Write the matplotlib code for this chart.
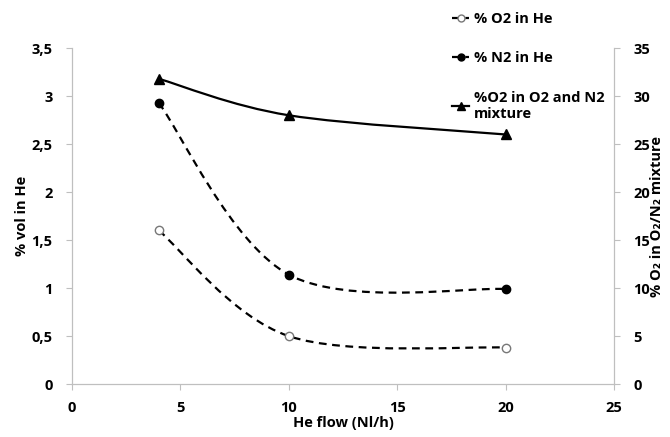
import matplotlib.pyplot as plt
from matplotlib.path import Path
from matplotlib.patches import PathPatch
from matplotlib.lines import Line2D
from matplotlib.ticker import FuncFormatter

plt.rcParams['font.family'] = ['Open Sans', 'DejaVu Sans']
plt.rcParams['font.weight'] = 'bold'

he_flow = [4, 10, 20]
o2_in_he = [1.6, 0.5, 0.38]
n2_in_he = [2.93, 1.14, 0.99]
o2_in_mix = [31.8, 28.0, 26.0]


def smooth_path(xs, ys):
    # Excel-like smoothed line: cubic Bezier segments through each point
    pts = list(zip(xs, ys))
    ext = [pts[0]] + pts + [pts[-1]]
    verts = [pts[0]]
    codes = [Path.MOVETO]
    for i in range(1, len(ext) - 2):
        p0, p1, p2, p3 = ext[i - 1], ext[i], ext[i + 1], ext[i + 2]
        c1 = (p1[0] + (p2[0] - p0[0]) / 6, p1[1] + (p2[1] - p0[1]) / 6)
        c2 = (p2[0] - (p3[0] - p1[0]) / 6, p2[1] - (p3[1] - p1[1]) / 6)
        verts += [c1, c2, p2]
        codes += [Path.CURVE4] * 3
    return Path(verts, codes)


def comma(v, pos):
    return ('%g' % v).replace('.', ',')


fig = plt.figure(figsize=(6.7, 4.37), dpi=100)
ax = fig.add_axes([0.1075, 0.121, 0.809, 0.769])
ax2 = ax.twinx()

grey = '#bfbfbf'
dash = (0, (3.5, 2.5))

ax.add_patch(PathPatch(smooth_path(he_flow, o2_in_he), fill=False,
                       edgecolor='black', lw=1.6, linestyle=dash))
ax.plot(he_flow, o2_in_he, linestyle='none', marker='o', markersize=6,
        markerfacecolor='white', markeredgecolor='#777777', zorder=3)

ax.add_patch(PathPatch(smooth_path(he_flow, n2_in_he), fill=False,
                       edgecolor='black', lw=1.6, linestyle=dash))
ax.plot(he_flow, n2_in_he, linestyle='none', marker='o', markersize=6,
        color='black', zorder=3)

ax2.add_patch(PathPatch(smooth_path(he_flow, o2_in_mix), fill=False,
                        edgecolor='black', lw=1.6))
ax2.plot(he_flow, o2_in_mix, linestyle='none', marker='^', markersize=7,
         color='black', zorder=3)

ax.set_xlim(0, 25)
ax.set_ylim(0, 3.5)
ax2.set_ylim(0, 35)
ax.set_xticks([0, 5, 10, 15, 20, 25])
ax.set_yticks([0, 0.5, 1, 1.5, 2, 2.5, 3, 3.5])
ax2.set_yticks([0, 5, 10, 15, 20, 25, 30, 35])
ax.yaxis.set_major_formatter(FuncFormatter(comma))

for a in (ax, ax2):
    for s in a.spines.values():
        s.set_color(grey)
    a.spines['top'].set_visible(False)
    a.tick_params(colors=grey, labelcolor='black', labelsize=10.5, length=4)
    for lab in a.get_xticklabels() + a.get_yticklabels():
        lab.set_fontweight('bold')

ax.tick_params(axis='x', pad=8)
ax.tick_params(axis='y', pad=10)
ax2.tick_params(axis='y', pad=10)

ax.set_xlabel('He flow (Nl/h)', fontsize=10.5, fontweight='bold', labelpad=1)
ax.set_ylabel('% vol in He', fontsize=10.5, fontweight='bold', labelpad=2)
ax2.set_ylabel('% O₂ in O₂/N₂ mixture', fontsize=10.5, fontweight='bold',
               labelpad=0)

handles = [
    Line2D([], [], color='black', lw=1.6, linestyle=dash, marker='o',
           markersize=5, markerfacecolor='white', markeredgecolor='#777777'),
    Line2D([], [], color='black', lw=1.6, linestyle=dash, marker='o',
           markersize=5),
    Line2D([], [], color='black', lw=1.6, marker='^', markersize=6),
]
labels = ['% O2 in He', '% N2 in He', '%O2 in O2 and N2\nmixture']
fig.legend(handles, labels, loc='upper left', bbox_to_anchor=(0.655, 1.003),
           frameon=False, fontsize=10.5, handlelength=1.2, handletextpad=0.3,
           labelspacing=1.75)

fig.savefig('out.png', dpi=100)
